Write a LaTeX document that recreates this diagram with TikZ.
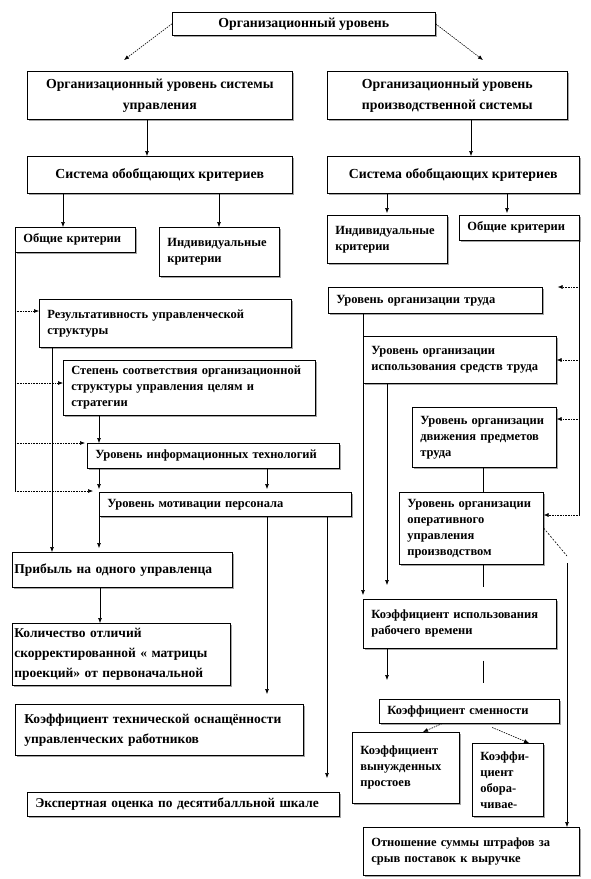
\documentclass[tikz,border=0pt]{standalone}
\usepackage{fontspec}
\setmainfont{Liberation Serif}
\usetikzlibrary{arrows.meta,shadows}

\begin{document}
\begin{tikzpicture}[x=1pt,y=-1pt,font=\bfseries,
box/.style={draw,fill=white,line width=0.6pt,anchor=north west,inner xsep=8pt,inner ysep=2pt,drop shadow={shadow xshift=1.2pt,shadow yshift=-1.2pt,fill=black!70}},
headbox/.style={box,align=center,font=\bfseries\fontsize{13.8}{21}\selectfont},
critbox/.style={box,align=left,font=\bfseries\fontsize{12.5}{16}\selectfont},
bigbox/.style={box,align=left,inner xsep=2pt,font=\bfseries\fontsize{13.5}{20}\selectfont},
arr/.style={-{Latex[length=5pt,width=4pt]},line width=0.6pt},
line/.style={line width=0.6pt},
branch/.style={arr,densely dotted},
diag/.style={arr,dash pattern=on 1.5pt off 1pt}]
\fill[white] (0,0) rectangle (591,879);
\useasboundingbox (0,0) rectangle (591,879);
% upper levels
\node[headbox,minimum width=263pt,minimum height=23pt] (top) at (172,12) {Организационный уровень};
\node[headbox,minimum width=265pt,minimum height=48pt] (a1) at (27,71) {Организационный уровень системы\\управления};
\node[headbox,minimum width=240pt,minimum height=48pt] (b1) at (327,71) {Организационный уровень\\производственной системы};
\node[headbox,minimum width=265pt,minimum height=37pt] (a2) at (27,156) {Система обобщающих критериев};
\node[headbox,minimum width=252pt,minimum height=37pt] (b2) at (327,156) {Система обобщающих критериев};
% management side
\node[critbox,text width=104pt,minimum height=25pt] (a3) at (15,227) {Общие критерии};
\node[critbox,text width=104pt,minimum height=49pt] (a4) at (159,227) {Индивидуальные\\критерии};
\node[critbox,text width=236pt,minimum height=48pt] (a5) at (39,299) {Результативность управленческой\\структуры};
\node[critbox,text width=236pt,minimum height=55pt] (a6) at (63,360) {Степень соответствия организационной\\структуры управления целям и\\стратегии};
\node[critbox,text width=236pt,minimum height=25pt] (a7) at (87,443) {Уровень информационных технологий};
\node[critbox,text width=236pt,minimum height=24pt] (a8) at (99,492) {Уровень мотивации персонала};
\node[bigbox,text width=216pt,minimum height=35pt] (a9) at (12,552) {Прибыль на одного управленца};
\node[bigbox,text width=214pt,minimum height=62pt] (a10) at (12,623) {Количество отличий\\скорректированной « матрицы\\проекций» от первоначальной};
\node[bigbox,inner xsep=9pt,text width=270pt,minimum height=51pt] (a11) at (15,704) {Коэффициент технической оснащённости\\управленческих работников};
\node[critbox,font=\bfseries\fontsize{13.4}{16}\selectfont,text width=296pt,minimum height=24pt] (a12) at (27,792) {Экспертная оценка по десятибалльной шкале};
% production side
\node[critbox,text width=104pt,minimum height=48pt] (b3) at (327,215) {Индивидуальные\\критерии};
\node[critbox,text width=104pt,minimum height=25pt] (b4) at (459,215) {Общие критерии};
\node[critbox,text width=198pt,minimum height=26pt] (b5) at (328,287) {Уровень организации труда};
\node[critbox,text width=177pt,minimum height=47pt] (b6) at (363,336) {Уровень организации\\использования средств труда};
\node[critbox,text width=128pt,minimum height=60pt] (b7) at (412,407) {Уровень организации\\движения предметов\\труда};
\node[critbox,text width=128pt,minimum height=72pt] (b8) at (399,492) {Уровень организации\\оперативного\\управления\\производством};
\node[critbox,text width=177pt,minimum height=49pt] (b9) at (363,599) {Коэффициент использования\\рабочего времени};
\node[critbox,text width=164pt,minimum height=24pt] (b10) at (379,699) {Коэффициент сменности};
\node[critbox,text width=91pt,minimum height=71pt] (b11) at (352,732) {Коэффициент\\вынужденных\\простоев};
\node[critbox,text width=55pt,minimum height=73pt] (b12) at (472,743) {Коэффи-\\циент\\обора-\\чивае-};
\node[critbox,text width=200pt,minimum height=48pt] (b13) at (363,827) {Отношение суммы штрафов за\\срыв поставок к выручке};
\coordinate (lefttip) at (124,60);
\coordinate (righttip) at (483,60);
\coordinate (kink) at (567,556);
% connectors
\draw[diag] (top.west) -- (lefttip);
\draw[diag] (top.east) -- (righttip);
\draw[arr] (a1.south -| 147,0) -- (a2.north -| 147,0);
\draw[arr] (b1.south -| 471,0) -- (b2.north -| 471,0);
\draw[arr] (a2.south -| 63,0) -- (a3.north -| 63,0);
\draw[arr] (a2.south -| 219,0) -- (a4.north -| 219,0);
\draw[arr,shorten >=2pt] (b2.south -| 387,0) -- (b3.north -| 387,0);
\draw[arr,shorten >=2pt] (b2.south -| 507,0) -- (b4.north -| 507,0);
\draw[line] (a3.south west) -- (a3.south west |- 0,491);
\draw[branch] (a3.south west |- 0,311) -- (a5.west |- 0,311);
\draw[branch] (a3.south west |- 0,383) -- (a6.west |- 0,383);
\draw[branch,shorten >=2pt] (a3.south west |- 0,443) -- (a7.north west);
\draw[branch,shorten >=6pt] (a3.south west |- 0,491) -- (a8.west |- 0,491);
\draw[arr] (a5.south -| 52,0) -- (a9.north -| 52,0);
\draw[arr] (a6.south -| 99,0) -- (a7.north -| 99,0);
\draw[arr,shorten >=3pt] (a7.south -| 99,0) -- (a8.north -| 99,0);
\draw[arr,shorten >=3pt] (a7.south -| 267,0) -- (a8.north -| 267,0);
\draw[arr,shorten >=4pt] (a8.south -| 99,0) -- (a9.north -| 99,0);
\draw[arr,shorten >=10pt] (a8.south -| 267,0) -- (a11.north -| 267,0);
\draw[arr,shorten >=14pt] (a8.south -| 327,0) -- (a12.north -| 327,0);
\draw[arr] (a9.south -| 100,0) -- (a10.north -| 100,0);
\draw[line] (b4.south east) -- (b4.south east |- 0,515);
\draw[branch,shorten >=15pt] (b4.south east |- 0,287) -- (b5.north east);
\draw[branch] (b4.south east |- 0,360) -- (b6.east |- 0,360);
\draw[branch] (b4.south east |- 0,419) -- (b7.east |- 0,419);
\draw[branch] (b4.south east |- 0,515) -- (b8.east |- 0,515);
\draw[arr,shorten >=4pt] (b5.south -| 363,0) -- (b9.north -| 363,0);
\draw[arr,shorten >=14pt] (b6.south -| 387,0) -- (b9.north -| 387,0);
\draw[line] (b7.south -| 483,0) -- (b8.north -| 483,0);
\draw[line,shorten >=12pt] (b8.south -| 483,0) -- (b9.north -| 483,0);
\draw[line,shorten <=12pt,shorten >=16pt] (b9.south -| 483,0) -- (b10.north -| 483,0);
\draw[arr,shorten >=19pt] (b9.south -| 387,0) -- (b10.north -| 387,0);
\draw[line,dash pattern=on 2pt off 1.5pt] (b8.east |- 0,528) -- (kink);
\draw[arr,shorten <=7pt] (kink) -- (b13.north -| kink);
\draw[diag] (b10.south -| 442,0) -- (b11.north -| 423,0);
\draw[diag,shorten <=10pt] (b10.south -| 483,0) -- (b12.north -| 529,0);
\end{tikzpicture}
\end{document}
